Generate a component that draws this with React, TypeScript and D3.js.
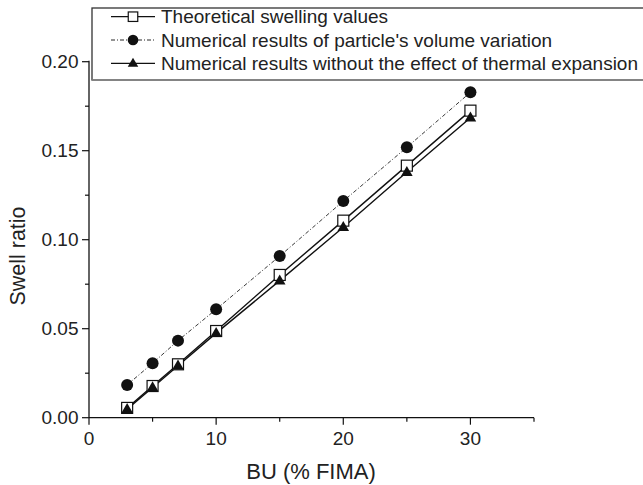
import React from "react";
import * as d3 from "d3";

const burnup = [3, 5, 7, 10, 15, 20, 25, 30];
const theoretical = [0.0055, 0.0178, 0.030, 0.0487, 0.0802, 0.1107, 0.1416, 0.1725];
const withThermal = [0.0184, 0.0306, 0.0433, 0.0609, 0.0908, 0.1217, 0.1519, 0.1828];
const noThermal = [0.0048, 0.0170, 0.0292, 0.0475, 0.0770, 0.1070, 0.1380, 0.1685];
const xTicks = [0, 10, 20, 30];
const xMinor = [5, 15, 25, 35];
const yTicks = [0, 0.05, 0.1, 0.15, 0.2];
const yMinor = [0.025, 0.075, 0.125, 0.175];
const legendLabels = [
  "Theoretical swelling values",
  "Numerical results of particle's volume variation",
  "Numerical results without the effect of thermal expansion",
];

const W = 643;
const H = 485;
const FONT = "'Liberation Sans', Arial, sans-serif";

export default function App() {
  const x = d3.scaleLinear().domain([0, 35]).range([89, 534]);
  const y = d3.scaleLinear().domain([0, 0.2]).range([417.7, 61.7]);
  const line = (vals: number[]) =>
    d3.line<number>().x((_, i) => x(burnup[i])).y((v) => y(v))(vals) || "";
  const triBig = d3.symbol().type(d3.symbolTriangle).size(58)() || "";
  const triSmall = d3.symbol().type(d3.symbolTriangle).size(48)() || "";

  const square = (cx: number, cy: number, k: string, s = 11) => (
    <rect key={k} x={cx - s / 2} y={cy - s / 2} width={s} height={s} fill="#fff" stroke="#111" strokeWidth={1.2} />
  );
  const circle = (cx: number, cy: number, k: string, r = 6) => (
    <circle key={k} cx={cx} cy={cy} r={r} fill="#111" />
  );
  const triangle = (cx: number, cy: number, k: string, d = triBig) => (
    <path key={k} d={d} transform={`translate(${cx},${cy + 0.5})`} fill="#111" />
  );

  const legendRows = [
    { y: 16.7, dash: undefined, marker: (cx: number, cy: number, k: string) => square(cx, cy, k, 9.5) },
    { y: 40, dash: "4,2,1,2", marker: (cx: number, cy: number, k: string) => circle(cx, cy, k, 5.3) },
    { y: 63.3, dash: undefined, marker: (cx: number, cy: number, k: string) => triangle(cx, cy, k, triSmall) },
  ];

  return (
    <svg width={W} height={H} style={{ position: "absolute", left: 0, top: 0, background: "#fff" }} fontFamily={FONT}>
      <rect width={W} height={H} fill="#fff" />
      {/* axes */}
      <line x1={89} x2={534} y1={y(0)} y2={y(0)} stroke="#111" strokeWidth={1.3} />
      <line x1={89} x2={89} y1={y(0)} y2={y(0.2) - 1} stroke="#111" strokeWidth={1.3} />
      {xTicks.map((t) => (
        <g key={"xt" + t}>
          <line x1={x(t)} x2={x(t)} y1={y(0)} y2={y(0) + 7} stroke="#111" strokeWidth={1.2} />
          <text x={x(t)} y={445} textAnchor="middle" fontSize={19} fill="#222">{t}</text>
        </g>
      ))}
      {xMinor.map((t) => (
        <line key={"xm" + t} x1={x(t)} x2={x(t)} y1={y(0)} y2={y(0) + 4} stroke="#111" strokeWidth={1.2} />
      ))}
      {yTicks.map((t) => (
        <g key={"yt" + t}>
          <line x1={82} x2={89} y1={y(t)} y2={y(t)} stroke="#111" strokeWidth={1.2} />
          <text x={78.5} y={y(t) + 6.6} textAnchor="end" fontSize={19} fill="#222">{t.toFixed(2)}</text>
        </g>
      ))}
      {yMinor.map((t) => (
        <line key={"ym" + t} x1={85} x2={89} y1={y(t)} y2={y(t)} stroke="#111" strokeWidth={1.2} />
      ))}
      <text x={311} y={479} textAnchor="middle" fontSize={22} fill="#222">BU (% FIMA)</text>
      <text transform="translate(25,256) rotate(-90)" textAnchor="middle" fontSize={21.5} fill="#222">Swell ratio</text>

      {/* series */}
      <path d={line(withThermal)} fill="none" stroke="#222" strokeWidth={0.9} strokeDasharray="4,2,1,2" />
      <path d={line(theoretical)} fill="none" stroke="#111" strokeWidth={1.4} />
      <path d={line(noThermal)} fill="none" stroke="#111" strokeWidth={1.4} />
      {withThermal.map((v, i) => circle(x(burnup[i]), y(v), "c" + i))}
      {theoretical.map((v, i) => square(x(burnup[i]), y(v), "s" + i))}
      {noThermal.map((v, i) => triangle(x(burnup[i]), y(v), "t" + i))}

      {/* legend */}
      <rect x={92} y={8} width={600} height={72} fill="#fff" stroke="#333" strokeWidth={1.3} />
      <line x1={92} x2={643} y1={80} y2={80} stroke="#888" strokeWidth={1.6} />
      {legendRows.map((r, i) => (
        <g key={"lg" + i}>
          <line x1={111} x2={155} y1={r.y} y2={r.y} stroke="#111" strokeWidth={r.dash ? 0.9 : 1.3} strokeDasharray={r.dash} />
          {r.marker(133, r.y, "lm" + i)}
          <text x={161} y={r.y + 6.7} fontSize={19} fill="#222">{legendLabels[i]}</text>
        </g>
      ))}
    </svg>
  );
}
